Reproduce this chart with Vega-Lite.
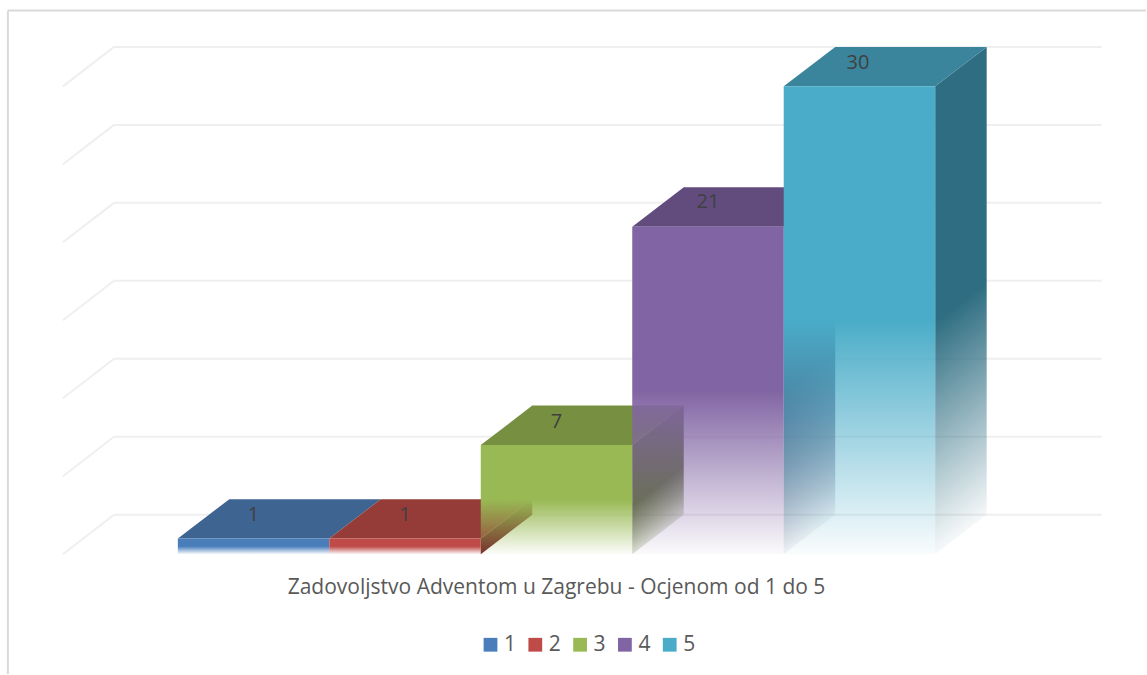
{"$schema":"https://vega.github.io/schema/vega-lite/v6.json","width":1147,"height":675,"autosize":{"type":"fit","contains":"padding"},"padding":0,"background":"#ffffff","config":{"view":{"stroke":null},"axis":{"grid":false}},"datasets":{"bars":[{"ocjena":"1","start":0,"end":1,"broj":1,"base":0},{"ocjena":"2","start":1,"end":2,"broj":1,"base":0},{"ocjena":"3","start":2,"end":3,"broj":7,"base":0},{"ocjena":"4","start":3,"end":4,"broj":21,"base":0},{"ocjena":"5","start":4,"end":5,"broj":30,"base":0}],"tops":[{"ocjena":"1","a":0,"b":1,"v":1},{"ocjena":"1","a":0.34,"b":1.34,"v":3.53},{"ocjena":"2","a":1,"b":2,"v":1},{"ocjena":"2","a":1.34,"b":2.34,"v":3.53},{"ocjena":"3","a":2,"b":3,"v":7},{"ocjena":"3","a":2.34,"b":3.34,"v":9.53},{"ocjena":"4","a":3,"b":4,"v":21},{"ocjena":"4","a":3.34,"b":4.34,"v":23.53},{"ocjena":"5","a":4,"b":5,"v":30},{"ocjena":"5","a":4.34,"b":5.34,"v":32.53}],"sides":[{"ocjena":"2","u":2,"lo":0,"hi":1},{"ocjena":"2","u":2.34,"lo":2.53,"hi":3.53},{"ocjena":"3","u":3,"lo":0,"hi":7},{"ocjena":"3","u":3.34,"lo":2.53,"hi":9.53},{"ocjena":"4","u":4,"lo":0,"hi":21},{"ocjena":"4","u":4.34,"lo":2.53,"hi":23.53},{"ocjena":"5","u":5,"lo":0,"hi":30},{"ocjena":"5","u":5.34,"lo":2.53,"hi":32.53}],"wall":[{"x0":-0.4215,"x1":6.1,"v":2.53},{"x0":-0.4215,"x1":6.1,"v":7.53},{"x0":-0.4215,"x1":6.1,"v":12.53},{"x0":-0.4215,"x1":6.1,"v":17.53},{"x0":-0.4215,"x1":6.1,"v":22.53},{"x0":-0.4215,"x1":6.1,"v":27.53},{"x0":-0.4215,"x1":6.1,"v":32.53}],"floor":[{"x0":-0.7586,"x1":-0.4215,"v0":0,"v1":2.53},{"x0":-0.7586,"x1":-0.4215,"v0":5,"v1":7.53},{"x0":-0.7586,"x1":-0.4215,"v0":10,"v1":12.53},{"x0":-0.7586,"x1":-0.4215,"v0":15,"v1":17.53},{"x0":-0.7586,"x1":-0.4215,"v0":20,"v1":22.53},{"x0":-0.7586,"x1":-0.4215,"v0":25,"v1":27.53},{"x0":-0.7586,"x1":-0.4215,"v0":30,"v1":32.53}],"labels":[{"t":"1","u":0.5,"v":2.5},{"t":"1","u":1.5,"v":2.5},{"t":"7","u":2.5,"v":8.5},{"t":"21","u":3.5,"v":22.6},{"t":"30","u":4.49,"v":31.5}],"frame":[{"x0":-1.122,"x1":6.3918,"v0":34.86,"v1":34.86},{"x0":-1.122,"x1":-1.122,"v0":34.86,"v1":-7.684}],"caption":[{"t":"Zadovoljstvo Adventom u Zagrebu - Ocjenom od 1 do 5","u":2.5,"v":-2.15}]},"layer":[{"data":{"name":"frame"},"mark":{"type":"rule","color":"#d9d9d9","strokeWidth":2},"encoding":{"x":{"field":"x0","type":"quantitative","scale":{"domain":[-1.1741,6.3918],"nice":false,"zero":false},"axis":null},"x2":{"field":"x1"},"y":{"field":"v0","type":"quantitative","scale":{"domain":[-7.684,35.538],"nice":false,"zero":false},"axis":null},"y2":{"field":"v1"}}},{"data":{"name":"wall"},"mark":{"type":"rule","color":"#efefef","strokeWidth":2},"encoding":{"x":{"field":"x0","type":"quantitative"},"x2":{"field":"x1"},"y":{"field":"v","type":"quantitative"}}},{"data":{"name":"floor"},"mark":{"type":"rule","color":"#efefef","strokeWidth":2},"encoding":{"x":{"field":"x0","type":"quantitative"},"x2":{"field":"x1"},"y":{"field":"v0","type":"quantitative"},"y2":{"field":"v1"}}},{"data":{"name":"bars"},"mark":{"type":"rect","opacity":0},"encoding":{"x":{"field":"start","type":"quantitative"},"x2":{"field":"end"},"y":{"field":"broj","type":"quantitative"},"y2":{"field":"base"},"color":{"field":"ocjena","type":"nominal","scale":{"domain":["1","2","3","4","5"],"range":["#4a7ebb","#be4b48","#98b954","#8164a3","#4aacc8"]},"legend":{"orient":"none","legendX":480,"legendY":634,"direction":"horizontal","columns":5,"title":null,"symbolType":"square","symbolSize":190,"symbolOpacity":1,"symbolStrokeWidth":0,"labelFontSize":21,"labelFont":"Open Sans","labelColor":"#595959","columnPadding":7.8,"labelOffset":3}}}},{"data":{"name":"sides"},"transform":[{"filter":"datum.ocjena=='2'"}],"mark":{"type":"area","orient":"vertical","color":{"gradient":"linear","x1":0,"y1":0,"x2":0.736,"y2":1,"stops":[{"offset":0,"color":"#772e2c"},{"offset":0.8,"color":"#772e2c"},{"offset":1,"color":"rgba(119,46,44,0.03)"}]}},"encoding":{"x":{"field":"u","type":"quantitative"},"y":{"field":"hi","type":"quantitative"},"y2":{"field":"lo"}}},{"data":{"name":"sides"},"transform":[{"filter":"datum.ocjena=='3'"}],"mark":{"type":"area","orient":"vertical","color":{"gradient":"linear","x1":0,"y1":0,"x2":0.265,"y2":1,"stops":[{"offset":0,"color":"#5f7434"},{"offset":0.63,"color":"#5f7434"},{"offset":1,"color":"rgba(95,116,52,0.03)"}]}},"encoding":{"x":{"field":"u","type":"quantitative"},"y":{"field":"hi","type":"quantitative"},"y2":{"field":"lo"}}},{"data":{"name":"sides"},"transform":[{"filter":"datum.ocjena=='4'"}],"mark":{"type":"area","orient":"vertical","color":{"gradient":"linear","x1":0,"y1":0,"x2":0.107,"y2":1,"stops":[{"offset":0,"color":"#4d3b62"},{"offset":0.55,"color":"#4d3b62"},{"offset":1,"color":"rgba(77,59,98,0.03)"}]}},"encoding":{"x":{"field":"u","type":"quantitative"},"y":{"field":"hi","type":"quantitative"},"y2":{"field":"lo"}}},{"data":{"name":"sides"},"transform":[{"filter":"datum.ocjena=='5'"}],"mark":{"type":"area","orient":"vertical","color":{"gradient":"linear","x1":0,"y1":0,"x2":0.077,"y2":1,"stops":[{"offset":0,"color":"#2f6e82"},{"offset":0.54,"color":"#2f6e82"},{"offset":1,"color":"rgba(47,110,130,0.03)"}]}},"encoding":{"x":{"field":"u","type":"quantitative"},"y":{"field":"hi","type":"quantitative"},"y2":{"field":"lo"}}},{"data":{"name":"tops"},"mark":{"type":"area","orient":"horizontal"},"encoding":{"y":{"field":"v","type":"quantitative"},"x":{"field":"a","type":"quantitative"},"x2":{"field":"b"},"color":{"field":"ocjena","type":"nominal","legend":null,"scale":{"domain":["1","2","3","4","5"],"range":["#3e6492","#953c39","#768f41","#624c7e","#3a859c"]}}}},{"data":{"name":"bars"},"transform":[{"filter":"datum.ocjena=='1'"}],"mark":{"type":"rect","color":{"gradient":"linear","x1":0,"y1":0,"x2":0,"y2":1,"stops":[{"offset":0,"color":"#4a7ebb"},{"offset":0.5,"color":"#4a7ebb"},{"offset":1,"color":"rgba(74,126,187,0.03)"}]}},"encoding":{"x":{"field":"start","type":"quantitative"},"x2":{"field":"end"},"y":{"field":"broj","type":"quantitative"},"y2":{"field":"base"}}},{"data":{"name":"bars"},"transform":[{"filter":"datum.ocjena=='2'"}],"mark":{"type":"rect","color":{"gradient":"linear","x1":0,"y1":0,"x2":0,"y2":1,"stops":[{"offset":0,"color":"#be4b48"},{"offset":0.5,"color":"#be4b48"},{"offset":1,"color":"rgba(190,75,72,0.03)"}]}},"encoding":{"x":{"field":"start","type":"quantitative"},"x2":{"field":"end"},"y":{"field":"broj","type":"quantitative"},"y2":{"field":"base"}}},{"data":{"name":"bars"},"transform":[{"filter":"datum.ocjena=='3'"}],"mark":{"type":"rect","color":{"gradient":"linear","x1":0,"y1":0,"x2":0,"y2":1,"stops":[{"offset":0,"color":"#98b954"},{"offset":0.5,"color":"#98b954"},{"offset":1,"color":"rgba(152,185,84,0.03)"}]}},"encoding":{"x":{"field":"start","type":"quantitative"},"x2":{"field":"end"},"y":{"field":"broj","type":"quantitative"},"y2":{"field":"base"}}},{"data":{"name":"bars"},"transform":[{"filter":"datum.ocjena=='4'"}],"mark":{"type":"rect","color":{"gradient":"linear","x1":0,"y1":0,"x2":0,"y2":1,"stops":[{"offset":0,"color":"#8164a3"},{"offset":0.5,"color":"#8164a3"},{"offset":1,"color":"rgba(129,100,163,0.03)"}]}},"encoding":{"x":{"field":"start","type":"quantitative"},"x2":{"field":"end"},"y":{"field":"broj","type":"quantitative"},"y2":{"field":"base"}}},{"data":{"name":"bars"},"transform":[{"filter":"datum.ocjena=='5'"}],"mark":{"type":"rect","color":{"gradient":"linear","x1":0,"y1":0,"x2":0,"y2":1,"stops":[{"offset":0,"color":"#4aacc8"},{"offset":0.5,"color":"#4aacc8"},{"offset":1,"color":"rgba(74,172,200,0.03)"}]}},"encoding":{"x":{"field":"start","type":"quantitative"},"x2":{"field":"end"},"y":{"field":"broj","type":"quantitative"},"y2":{"field":"base"}}},{"data":{"name":"labels"},"mark":{"type":"text","font":"Open Sans","fontSize":20,"color":"#404040","align":"center","baseline":"middle"},"encoding":{"x":{"field":"u","type":"quantitative"},"y":{"field":"v","type":"quantitative"},"text":{"field":"t","type":"nominal"}}},{"data":{"name":"caption"},"mark":{"type":"text","font":"Open Sans","fontSize":21,"color":"#595959","align":"center","baseline":"middle"},"encoding":{"x":{"field":"u","type":"quantitative"},"y":{"field":"v","type":"quantitative"},"text":{"field":"t","type":"nominal"}}}],"resolve":{"scale":{"color":"independent"}}}
